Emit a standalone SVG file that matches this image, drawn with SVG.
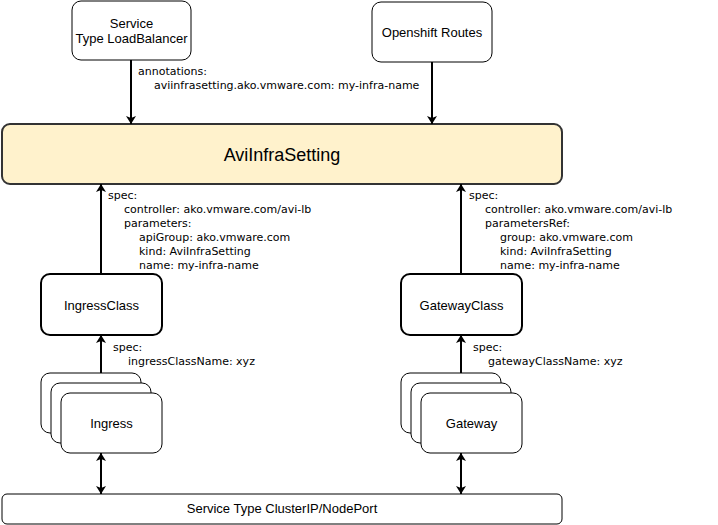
<svg xmlns="http://www.w3.org/2000/svg" width="718" height="525" viewBox="0 0 718 525">
<style>
.box{fill:#ffffff;stroke:#000000;stroke-width:1}
.bold{fill:#ffffff;stroke:#000000;stroke-width:2}
.t{font-family:"Liberation Sans",Arial,sans-serif;font-size:13px;fill:#000;text-anchor:middle}
.lbl{font-family:"DejaVu Sans",Verdana,sans-serif;font-size:11px;fill:#000}
.edge{stroke:#000;stroke-width:2;fill:none}
</style>
<defs>
<marker id="ah" markerWidth="8" markerHeight="10" refX="8" refY="5" orient="auto" markerUnits="userSpaceOnUse" viewBox="0 0 8 10">
<path d="M0,0 L8,5 L0,10 L2,5 z" fill="#000"/>
</marker>
<marker id="as" markerWidth="8" markerHeight="10" refX="0" refY="5" orient="auto" markerUnits="userSpaceOnUse" viewBox="0 0 8 10">
<path d="M8,0 L0,5 L8,10 L6,5 z" fill="#000"/>
</marker>
</defs>
<rect width="718" height="525" fill="#ffffff"/>
<g id="svc-lb">
<rect class="box" x="72" y="1" width="119" height="59" rx="9"/>
<text class="t" x="131.5" y="28">Service</text>
<text class="t" x="131.5" y="43">Type LoadBalancer</text>
</g>
<g id="openshift">
<rect class="box" x="372" y="2" width="120" height="60" rx="9"/>
<text class="t" x="432" y="37">Openshift Routes</text>
</g>
<g id="avi">
<rect x="2" y="124" width="560" height="60" rx="8" fill="#fff2cc" stroke="#333333" stroke-width="2"/>
<text class="t" x="282" y="161" style="font-size:18px">AviInfraSetting</text>
</g>
<g id="ingressclass">
<rect class="bold" x="41" y="274" width="121" height="61" rx="9"/>
<text class="t" x="101.5" y="310">IngressClass</text>
</g>
<g id="gatewayclass">
<rect class="bold" x="401" y="274" width="121" height="61" rx="9"/>
<text class="t" x="461.5" y="310">GatewayClass</text>
</g>
<g id="ingress">
<rect class="box" x="41" y="373" width="100" height="60" rx="9"/>
<rect class="box" x="51" y="383" width="100" height="60" rx="9"/>
<rect class="box" x="61" y="393" width="101" height="60" rx="9"/>
<text class="t" x="111.5" y="428">Ingress</text>
</g>
<g id="gateway">
<rect class="box" x="401" y="373" width="100" height="60" rx="9"/>
<rect class="box" x="411" y="383" width="100" height="60" rx="9"/>
<rect class="box" x="421" y="393" width="101" height="60" rx="9"/>
<text class="t" x="471.5" y="428">Gateway</text>
</g>
<g id="svc-cluster">
<rect class="box" x="2" y="494" width="560" height="30" rx="5"/>
<text class="t" x="282" y="513">Service Type ClusterIP/NodePort</text>
</g>
<g id="connectors">
<line class="edge" x1="131" y1="60" x2="131" y2="124" marker-end="url(#ah)"/>
<line class="edge" x1="432" y1="62" x2="432" y2="124" marker-end="url(#ah)"/>
<line class="edge" x1="101" y1="274" x2="101" y2="184" marker-end="url(#ah)"/>
<line class="edge" x1="461" y1="274" x2="461" y2="184" marker-end="url(#ah)"/>
<line class="edge" x1="101" y1="373" x2="101" y2="335" marker-end="url(#ah)"/>
<line class="edge" x1="461" y1="373" x2="461" y2="335" marker-end="url(#ah)"/>
<line class="edge" x1="101" y1="453" x2="101" y2="494" marker-start="url(#as)" marker-end="url(#ah)"/>
<line class="edge" x1="461" y1="453" x2="461" y2="494" marker-start="url(#as)" marker-end="url(#ah)"/>
</g>
<g id="labels">
<text class="lbl" x="138" y="75">annotations:</text>
<text class="lbl" x="154" y="89">aviinfrasetting.ako.vmware.com: my-infra-name</text>
<text class="lbl" x="108" y="199">spec:</text>
<text class="lbl" x="124" y="213">controller: ako.vmware.com/avi-lb</text>
<text class="lbl" x="124" y="227">parameters:</text>
<text class="lbl" x="139" y="241">apiGroup: ako.vmware.com</text>
<text class="lbl" x="139" y="255">kind: AviInfraSetting</text>
<text class="lbl" x="139" y="269">name: my-infra-name</text>
<text class="lbl" x="469" y="199">spec:</text>
<text class="lbl" x="485" y="213">controller: ako.vmware.com/avi-lb</text>
<text class="lbl" x="485" y="227">parametersRef:</text>
<text class="lbl" x="500" y="241">group: ako.vmware.com</text>
<text class="lbl" x="500" y="255">kind: AviInfraSetting</text>
<text class="lbl" x="500" y="269">name: my-infra-name</text>
<text class="lbl" x="113" y="351">spec:</text>
<text class="lbl" x="128" y="365">ingressClassName: xyz</text>
<text class="lbl" x="473" y="351">spec:</text>
<text class="lbl" x="488" y="365">gatewayClassName: xyz</text>
</g>
</svg>
